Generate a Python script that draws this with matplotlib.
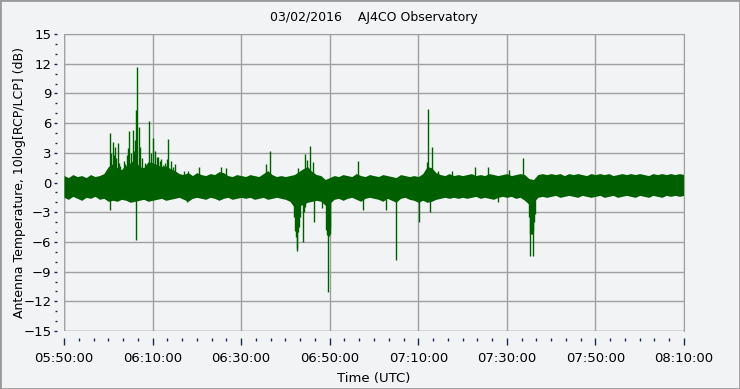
"""Polarisation ratio trace, AJ4CO Observatory, 03/02/2016."""
import matplotlib
matplotlib.use("Agg")
import matplotlib.pyplot as plt
from matplotlib.patches import Rectangle
from matplotlib.ticker import MultipleLocator, FuncFormatter

# minutes after 05:50:00 UTC, one envelope sample per minute
MINUTES = list(range(0, 141))

BAND_TOP = [
    0.7, 0.5, 0.8, 0.6, 0.7, 0.5, 0.8, 0.6, 0.7, 0.9,
    1.6, 1.9, 1.5, 1.3, 1.7, 2.0, 2.3, 1.6, 1.5, 2.1,
    2.0, 1.8, 1.6, 1.7, 1.4, 1.2, 0.9, 0.8, 1.0, 0.7,
    1.0, 0.8, 0.7, 0.9, 0.8, 1.1, 1.0, 0.7, 0.6, 0.8,
    0.7, 0.6, 0.8, 0.7, 0.6, 0.9, 1.2, 0.8, 0.6, 0.7,
    0.6, 0.7, 0.8, 1.1, 1.4, 1.6, 1.1, 0.8, 0.7, 0.3,
    0.5, 0.7, 0.6, 0.8, 0.7, 0.6, 0.9, 0.7, 0.6, 0.8,
    0.7, 0.6, 0.8, 0.7, 0.6, 0.5, 0.8, 0.7, 0.6, 0.7,
    0.6, 0.9, 1.6, 1.5, 1.0, 0.8, 0.7, 0.9, 0.7, 0.8,
    0.7, 0.8, 0.9, 0.7, 0.8, 0.7, 0.9, 0.8, 0.7, 0.8,
    0.9, 0.7, 0.8, 0.9, 0.8, 0.4, 0.3, 0.8, 0.9, 0.8,
    0.9, 0.8, 0.9, 0.7, 0.9, 0.8, 0.9, 0.8, 0.7, 0.9,
    0.8, 0.9, 0.8, 0.9, 0.7, 0.8, 0.9, 0.8, 0.9, 0.8,
    0.9, 0.8, 0.7, 0.9, 0.8, 0.9, 0.8, 0.9, 0.8, 0.9, 0.8,
]

BAND_BOTTOM = [
    -1.5, -1.7, -1.4, -1.6, -1.8, -1.5, -1.6, -1.4, -1.7, -1.6,
    -1.9, -1.8, -1.9, -1.7, -1.8, -2.0, -1.9, -1.8, -1.7, -1.9,
    -1.8, -1.7, -1.6, -1.8, -1.7, -1.6, -1.5, -1.7, -1.9, -1.6,
    -1.5, -1.6, -1.7, -1.5, -1.6, -1.8, -1.6, -1.5, -1.7, -1.6,
    -1.5, -1.6, -1.5, -1.7, -1.6, -1.5, -1.7, -1.6, -1.5, -1.6,
    -1.7, -1.9, -2.5, -2.4, -2.2, -2.0, -1.9, -1.8, -1.9, -2.3,
    -2.1, -1.7, -1.6, -1.8, -1.6, -1.5, -1.7, -1.9, -1.6, -1.5,
    -1.6, -1.7, -1.9, -1.6, -1.8, -2.0, -1.6, -1.5, -1.7, -1.8,
    -2.0, -1.8, -2.0, -1.9, -1.7, -1.6, -1.5, -1.6, -1.5, -1.6,
    -1.5, -1.6, -1.5, -1.4, -1.6, -1.5, -1.6, -1.7, -1.5, -1.4,
    -1.5, -1.4, -1.6, -1.5, -1.8, -2.2, -2.0, -1.5, -1.4, -1.5,
    -1.4, -1.3, -1.5, -1.4, -1.3, -1.4, -1.5, -1.3, -1.4, -1.5,
    -1.4, -1.3, -1.5, -1.4, -1.3, -1.5, -1.4, -1.3, -1.4, -1.5,
    -1.3, -1.4, -1.5, -1.3, -1.4, -1.5, -1.3, -1.4, -1.3, -1.4, -1.3,
]

# bursts sticking out of the noise band
UP_T = [10.4, 10.7, 11.0, 11.2, 11.5, 11.8, 12.1, 12.4, 12.65, 13.25,
        13.5, 13.85, 14.2, 14.5, 14.75, 15.2, 15.66, 15.8, 16.0, 16.33,
        16.56, 16.86, 17.16, 17.5, 18.2, 18.67, 19.27, 19.6, 20.17, 20.5,
        20.93, 21.3, 21.68, 22.0, 22.28, 22.7, 23.2, 23.56, 24.16, 24.6,
        25.06, 27.1, 27.9, 30.56, 35.45, 36.6, 45.6, 46.6, 52.8, 54.4,
        54.8, 55.6, 56.2, 66.4, 82.0, 82.3, 83.2, 84.5, 87.5, 92.9,
        95.8, 100.4, 103.7]
UP_DB = [5.0, 3.0, 4.1, 2.8, 3.6, 2.5, 4.0, 2.0, 1.7, 1.5,
         2.2, 1.9, 2.8, 3.5, 5.2, 3.0, 5.3, 3.2, 4.3, 7.3,
         11.65, 5.6, 3.6, 2.5, 2.0, 1.5, 6.2, 3.0, 4.5, 3.2,
         2.6, 2.6, 2.2, 2.4, 1.8, 2.0, 2.4, 4.4, 2.2, 1.6,
         1.9, 1.2, 1.2, 1.6, 1.6, 1.5, 1.9, 3.2, 1.5, 2.9,
         2.3, 3.7, 2.1, 2.15, 2.05, 7.45, 3.6, 1.2, 1.2, 1.6,
         1.6, 1.3, 2.5]

DOWN_T = [10.4, 16.3, 27.8, 52.0, 52.2, 52.4, 52.5, 52.6, 52.8, 53.0,
          53.3, 54.0, 54.2, 54.4, 56.5, 58.3, 59.2, 59.35, 59.5, 59.65,
          59.8, 60.0, 60.1, 67.6, 72.8, 75.0, 80.2, 82.6, 97.9, 105.0,
          105.15, 105.3, 105.45, 105.6, 105.75, 105.85, 106.0, 106.2,
          106.4]
DOWN_DB = [-2.8, -5.8, -2.0, -3.5, -4.9, -5.5, -6.9, -6.6, -5.0, -4.5,
           -3.5, -6.0, -3.0, -2.5, -4.0, -2.6, -4.8, -5.3, -11.1, -5.0,
           -5.4, -4.6, -5.2, -2.8, -2.8, -7.8, -4.0, -3.0, -2.0, -3.5,
           -5.2, -7.4, -5.2, -5.0, -5.2, -7.4, -4.8, -4.0, -3.2]

TICK_LABELS = ["05:50:00", "06:10:00", "06:30:00", "06:50:00",
               "07:10:00", "07:30:00", "07:50:00", "08:10:00"]

BG = "#f2f3f5"
GREEN = "#006000"
GRID = "#a0a0a0"
TICK = "#1a2a50"

plt.rcParams["font.family"] = ["DejaVu Sans"]
plt.rcParams["font.size"] = 9

fig = plt.figure(figsize=(7.40, 3.89), dpi=100, facecolor=BG)
ax = fig.add_axes([64 / 740, 1 - 331 / 389, 620 / 740, 297 / 389])
ax.set_facecolor(BG)

ax.fill_between(MINUTES, BAND_BOTTOM, BAND_TOP, color=GREEN, linewidth=0)
ax.vlines(UP_T, -0.4, UP_DB, color=GREEN, linewidth=1.0)
ax.vlines(DOWN_T, -0.4, DOWN_DB, color=GREEN, linewidth=1.0)

ax.set_xlim(0, 140)
ax.set_ylim(-15, 15)

ax.xaxis.set_major_locator(MultipleLocator(20))
ax.xaxis.set_minor_locator(MultipleLocator(20 / 6))
ax.xaxis.set_major_formatter(
    FuncFormatter(lambda v, pos: TICK_LABELS[int(round(v / 20))]
                  if 0 <= round(v / 20) < len(TICK_LABELS) else ""))
ax.yaxis.set_major_locator(MultipleLocator(3))
ax.yaxis.set_minor_locator(MultipleLocator(1))

ax.grid(True, which="major", color=GRID, linewidth=1.0)
ax.set_axisbelow(True)
for side in ["top", "right"]:
    ax.spines[side].set_color(GRID)
for side in ["bottom", "left"]:
    ax.spines[side].set_position(("outward", 5))
    ax.spines[side].set_color("none")
ax.axhline(-15, color=GRID, linewidth=1.0, zorder=0.5)
ax.axvline(0, color=GRID, linewidth=1.0, zorder=0.5)

ax.tick_params(axis="x", which="major", direction="out", length=5, width=1,
               colors=TICK, pad=5, labelsize=9.5, labelcolor="black")
ax.tick_params(axis="x", which="minor", direction="out", length=2.5, width=1,
               colors=TICK)
ax.tick_params(axis="y", which="major", direction="out", length=2, width=1,
               colors=TICK, pad=2, labelsize=9.5, labelcolor="black")
ax.tick_params(axis="y", which="minor", direction="out", length=1.5, width=1,
               colors=TICK)

ax.set_xlabel("Time (UTC)", fontsize=9.5)
ax.set_ylabel("Antenna Temperature, 10log[RCP/LCP] (dB)", fontsize=9)
ax.xaxis.set_label_coords(0.5, -0.138)
ax.yaxis.set_label_coords(-0.062, 0.5)
fig.text(374 / 740, 1 - 18 / 389, "03/02/2016    AJ4CO Observatory",
         ha="center", va="center", fontsize=9)

fig.patches.append(Rectangle((0, 0), 1, 1, transform=fig.transFigure,
                             fill=False, edgecolor="#9a9a9a", linewidth=2))

fig.savefig("out.png", dpi=100, facecolor=BG)
